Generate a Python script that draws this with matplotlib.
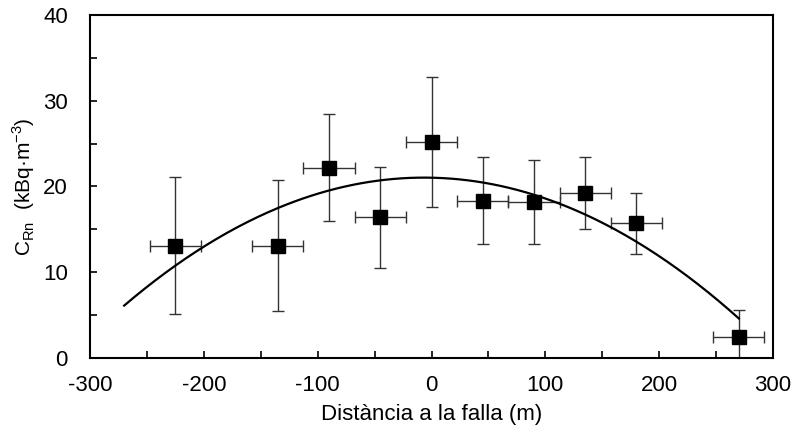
import numpy as np
import matplotlib
matplotlib.use("Agg")
import matplotlib.pyplot as plt
from matplotlib.ticker import MultipleLocator

# radon concentration vs distance to the fault
distance = [-225, -135, -90, -45, 0, 45, 90, 135, 180, 270]
c_rn = [13.1, 13.1, 22.2, 16.4, 25.2, 18.35, 18.2, 19.2, 15.7, 2.5]
c_rn_err = [8.0, 7.6, 6.2, 5.85, 7.6, 5.1, 4.9, 4.2, 3.6, 3.1]
dist_err = [22.5] * len(distance)

plt.rcParams["font.family"] = ["Liberation Sans", "DejaVu Sans"]
plt.rcParams["mathtext.fontset"] = "custom"
plt.rcParams["mathtext.rm"] = "Liberation Sans"
plt.rcParams["axes.unicode_minus"] = False

fig = plt.figure(figsize=(7.95, 4.36), dpi=100)
ax = fig.add_axes([90 / 795, 1 - 358 / 436, 683 / 795, 343 / 436])

ax.errorbar(distance, c_rn, yerr=c_rn_err, xerr=dist_err, fmt="none",
            ecolor="#333333", elinewidth=1.0, capsize=4, capthick=1.0, zorder=2)
ax.plot(distance, c_rn, "s", color="black", markersize=10, zorder=4)

# 2nd-order polynomial trendline
coef = np.polyfit(distance, c_rn, 2)
xs = np.linspace(-270, 270, 300)
ax.plot(xs, np.polyval(coef, xs), color="black", lw=1.6, zorder=3)

ax.set_xlim(-300, 300)
ax.set_ylim(0, 40)
ax.xaxis.set_major_locator(MultipleLocator(100))
ax.yaxis.set_major_locator(MultipleLocator(10))
ax.yaxis.set_minor_locator(MultipleLocator(5))
ax.set_xticks(np.arange(-250, 300, 50), minor=True)
ax.tick_params(which="both", direction="in", length=5, width=1.2,
               top=False, right=False, labelsize=16)
ax.tick_params(axis="x", pad=12)
ax.tick_params(axis="y", pad=16)
for s in ax.spines.values():
    s.set_linewidth(1.5)

ax.set_xlabel("Distància a la falla (m)", fontsize=16, labelpad=6)
ax.set_ylabel(r"C$_{\mathregular{Rn}}$  (kBq·m$^{\mathregular{-3}}$)", fontsize=15, labelpad=4)

fig.savefig("out.png", dpi=100)
